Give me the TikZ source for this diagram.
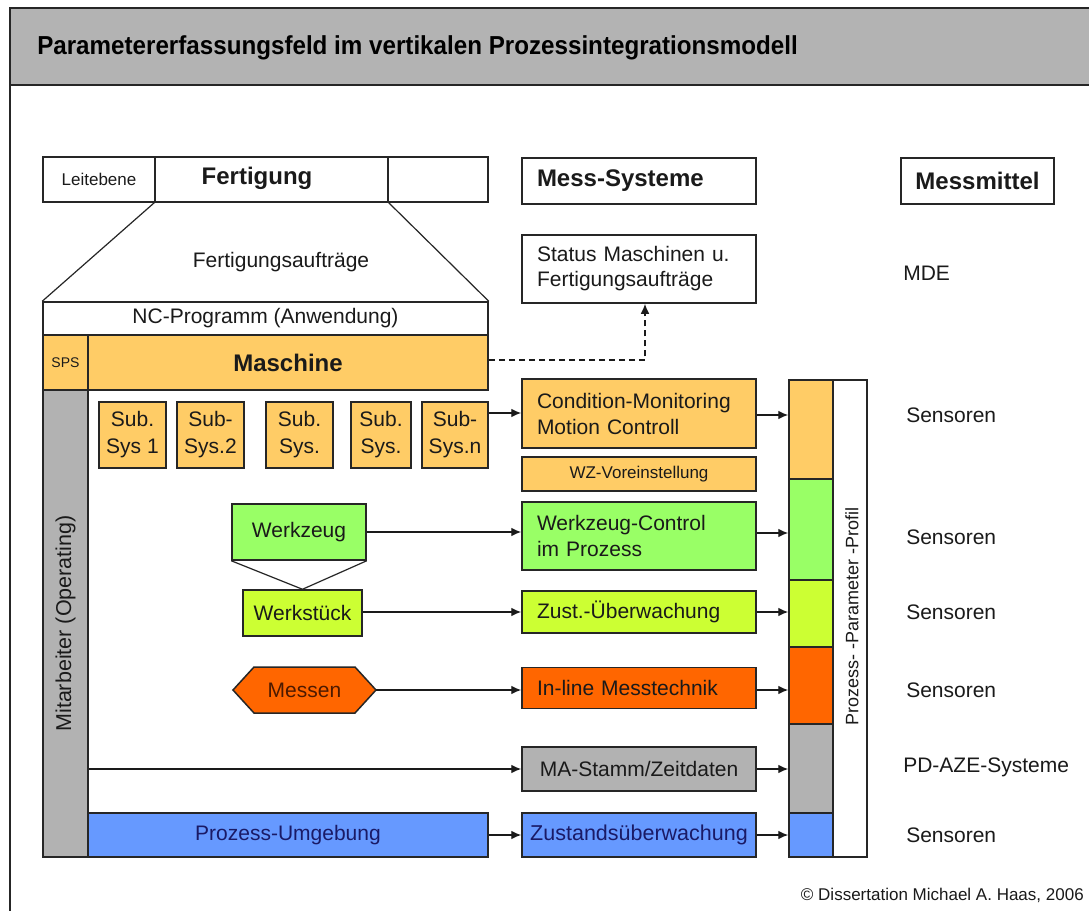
\documentclass[tikz,border=0pt]{standalone}
\usepackage{fontspec}
\setmainfont{Liberation Sans}
\usetikzlibrary{arrows.meta}
\newlength\px \setlength\px{0.75pt}
\newcommand\fs[2]{\fontsize{#1\px}{#2\px}\selectfont}
\definecolor{linec}{HTML}{262626}
\definecolor{txt}{HTML}{1A1A1A}
\definecolor{headgray}{HTML}{B3B3B3}
\definecolor{orangeL}{HTML}{FFCC66}
\definecolor{greenL}{HTML}{99FF66}
\definecolor{ygreen}{HTML}{CCFF33}
\definecolor{orangeR}{HTML}{FF6600}
\definecolor{grayM}{HTML}{B2B2B2}
\definecolor{blueM}{HTML}{6699FF}
\definecolor{navy}{HTML}{1A1A66}
\definecolor{brownT}{HTML}{4D1A00}
\begin{document}
\begin{tikzpicture}[x=0.75pt,y=-0.75pt,
  box/.style={draw=linec, line width=1.125pt, inner sep=0pt, text=txt, align=center, font=\fs{21}{26}},
  lbox/.style={box, align=left, text width=153pt, inner xsep=11.25pt, minimum height=#1},
  seg/.style={draw=linec, line width=1.125pt, inner sep=0pt, minimum width=33pt},
  conn/.style={draw=txt, line width=1pt, -{Latex[length=7.5pt,width=6.5pt]}},
  lab/.style={anchor=west, text=txt, font=\fs{21}{26}, inner sep=0pt}]
\useasboundingbox (0,0) rectangle (1089,911);
\fill[white] (0,0) rectangle (1089,911);

% title band and frame
\fill[headgray] (10,8) rectangle (1089,85);
\draw[linec, line width=1.5pt] (1089,8) -- (10,8) -- (10,911);
\draw[linec, line width=1.125pt] (10,85) -- (1089,85);
\node[anchor=west, inner sep=0pt, text=black, font=\fs{26}{30}\bfseries] (title) at (37,48)
  {\scalebox{0.93}[1]{Parametererfassungsfeld im vertikalen Prozessintegrationsmodell}};

% Fertigung / Leitebene row
\node[box, minimum width=84pt, minimum height=33.75pt, font=\fs{17}{20}] (leit) at (99,179.5) {Leitebene};
\node[box, minimum width=174.75pt, minimum height=33.75pt] (fert) at (271.5,179.5) {};
\node[text=txt, inner sep=0pt, font=\fs{24}{28}\bfseries] (ferttxt) at (257,178) {Fertigung};
\node[box, minimum width=75pt, minimum height=33.75pt] (fertr) at (438,179.5) {};
\node[lbox=34.5pt, font=\fs{24}{28}\bfseries] (messsys) at (639,181) {Mess-Systeme};
\node[box, minimum width=114.75pt, minimum height=34.5pt, font=\fs{24}{28}\bfseries] (messmittel) at (977.5,181) {Messmittel};

% machine block
\node[box, minimum width=333.75pt, minimum height=24.75pt] (nc) at (265.5,318.5) {NC-Programm (Anwendung)};
\node[box, fill=orangeL, minimum width=33.75pt, minimum height=41.25pt, font=\fs{14}{16}] (sps) at (65.5,362.5) {SPS};
\node[box, fill=orangeL, minimum width=300pt, minimum height=41.25pt, font=\fs{24}{28}\bfseries] (masch) at (288,362.5) {Maschine};
\node[draw=none, text=txt, font=\fs{21}{26}] (auftr) at (281,262) {Fertigungsaufträge};
\draw[linec, line width=0.9pt] (fert.south west) -- (nc.north west);
\draw[linec, line width=0.9pt] (fert.south east) -- (nc.north east);

\node[box, fill=grayM, minimum width=33.75pt, minimum height=350.25pt] (mitarb) at (65.5,623.5) {};
\node[rotate=90, text=txt, font=\fs{21.5}{26}] (mitarbtxt) at (mitarb) {Mitarbeiter (Operating)};

% sub systems
\node[box, fill=orangeL, minimum width=50.25pt, minimum height=49.5pt, font=\fs{21}{27}] (s1) at (132.5,435) {Sub.\\Sys 1};
\node[box, fill=orangeL, minimum width=50.25pt, minimum height=49.5pt, font=\fs{21}{27}] (s2) at (210.5,435) {Sub-\\Sys.2};
\node[box, fill=orangeL, minimum width=50.25pt, minimum height=49.5pt, font=\fs{21}{27}] (s3) at (299.5,435) {Sub.\\Sys.};
\node[box, fill=orangeL, minimum width=45pt, minimum height=49.5pt, font=\fs{21}{27}] (s4) at (381,435) {Sub.\\Sys.};
\node[box, fill=orangeL, minimum width=49.5pt, minimum height=49.5pt, font=\fs{21}{27}] (s5) at (455,435) {Sub-\\Sys.n};

% tool and workpiece
\node[box, fill=greenL, minimum width=100.5pt, minimum height=42pt] (wz) at (299,532) {Werkzeug};
\node[box, fill=ygreen, minimum width=89.25pt, minimum height=34.5pt] (ws) at (302.5,613) {Werkstück};
\draw[linec, line width=0.9pt] (wz.south west) -- (ws.north) -- (wz.south east);

% measuring hexagon
\fill[orangeR, draw=linec, line width=1.125pt] (233,690) -- (254,667) -- (355,667) -- (376,690) -- (355,713) -- (254,713) -- cycle;
\node[inner sep=0pt, minimum width=107.25pt, minimum height=34.5pt, text=brownT, font=\fs{21}{26}] (messen) at (304.5,690) {Messen};

% process environment
\node[box, fill=blueM, minimum width=300pt, minimum height=33pt, text=navy] (pu) at (288,835) {Prozess-Umgebung};

% measuring systems column
\node[lbox=51pt, font=\fs{21}{25}] (status) at (639,269) {Status Maschinen u.\\Fertigungsaufträge};
\node[lbox=51.75pt, fill=orangeL] (cm) at (639,413.5) {Condition-Monitoring\\Motion Controll};
\node[box, fill=orangeL, minimum width=175.5pt, minimum height=25.5pt, font=\fs{17}{20}] (wzv) at (639,474) {WZ-Voreinstellung};
\node[lbox=51pt, fill=greenL] (wc) at (639,536) {Werkzeug-Control\\im Prozess};
\node[lbox=31.5pt, fill=ygreen] (zust) at (639,612) {Zust.-Überwachung};
\node[lbox=30.75pt, fill=orangeR] (inl) at (639,688) {In-line Messtechnik};
\node[box, fill=grayM, minimum width=175.5pt, minimum height=33pt] (ma) at (639,769) {MA-Stamm/Zeitdaten};
\node[box, fill=blueM, minimum width=175.5pt, minimum height=33pt, text=navy, font=\fs{21.5}{26}] (zus) at (639,835) {Zustandsüberwachung};

% parameter profile bar
\node[seg, fill=orangeL, minimum height=74.25pt] (p1) at (811,429.5) {};
\node[seg, fill=greenL, minimum height=75.75pt] (p2) at (811,529.5) {};
\node[seg, fill=ygreen, minimum height=50.25pt] (p3) at (811,613.5) {};
\node[seg, fill=orangeR, minimum height=57.75pt] (p4) at (811,685.5) {};
\node[seg, fill=grayM, minimum height=66.75pt] (p5) at (811,768.5) {};
\node[seg, fill=blueM, minimum height=33pt] (p6) at (811,835) {};
\node[box, minimum width=25.5pt, minimum height=357.75pt] (prof) at (850,618.5) {};
\node[rotate=90, text=txt, font=\fs{18}{22}] (proftxt) at (852,616) {Prozess- -Parameter -Profil};

% connectors
\coordinate (dashc) at (645,360);
\draw[conn, dash pattern=on 4.5pt off 3pt] (masch.east |- dashc) -- (dashc) -- (dashc |- status.south);
\draw[conn] (s5.east |- 0,413) -- (cm.west |- 0,413);
\draw[conn] (wz.east) -- (wz.east -| wc.west);
\draw[conn] (ws.east |- zust.west) -- (zust.west);
\draw[conn] (messen.east) -- (messen.east -| inl.west);
\draw[conn] (mitarb.east |- ma.west) -- (ma.west);
\draw[conn] (pu.east) -- (zus.west);
\draw[conn] (cm.east |- 0,415) -- (p1.west |- 0,415);
\draw[conn] (wc.east |- 0,533) -- (p2.west |- 0,533);
\draw[conn] (zust.east) -- (zust.east -| p3.west);
\draw[conn] (inl.east |- 0,690) -- (p4.west |- 0,690);
\draw[conn] (ma.east) -- (ma.east -| p5.west);
\draw[conn] (zus.east) -- (zus.east -| p6.west);

% Messmittel labels
\node[lab] (mde) at (903,273) {MDE};
\node[lab] (sens1) at (906,415) {Sensoren};
\node[lab] (sens2) at (906,537) {Sensoren};
\node[lab] (sens3) at (906,612) {Sensoren};
\node[lab] (sens4) at (906,690) {Sensoren};
\node[lab] (pdaze) at (903,767) {PD-AZE-Systeme};
\node[lab] (sens5) at (906,835) {Sensoren};

\node[anchor=east, inner sep=0pt, text=txt, font=\fs{17}{20}] (copy) at (1084,895) {© Dissertation Michael A. Haas, 2006};
\end{tikzpicture}
\end{document}
